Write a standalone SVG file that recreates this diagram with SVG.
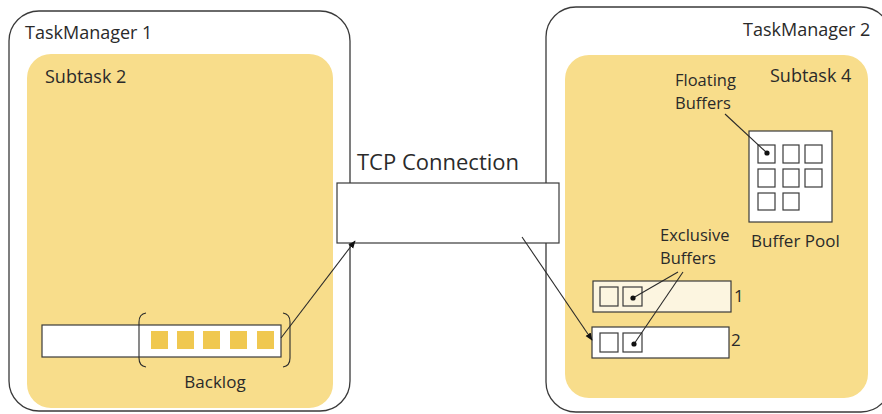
<svg xmlns="http://www.w3.org/2000/svg" width="882" height="414" viewBox="0 0 882 414">
  <defs>
    <style>
      .tm { fill: #ffffff; stroke: #3a3a3a; stroke-width: 1.3; }
      .sub { fill: #f8dd8b; stroke: none; }
      .box { fill: #ffffff; stroke: #3a3a3a; stroke-width: 1.2; }
      .cell { fill: none; stroke: #3a3a3a; stroke-width: 1.2; }
      .item { fill: #f0c850; stroke: none; }
      .lbl { font-family: "Open Sans", Lato, "Liberation Sans", sans-serif; fill: #2a2a2a; }
      .line { fill: none; stroke: #2a2a2a; stroke-width: 1.1; }
      .dot { fill: #111111; }
    </style>
    <marker id="arrow" viewBox="0 0 10 10" refX="9" refY="5" markerWidth="7" markerHeight="7" orient="auto-start-reverse">
      <path d="M0,1 L10,5 L0,9 z" fill="#111111"/>
    </marker>
  </defs>

  <!-- TaskManager 1 with Subtask 2 -->
  <g id="taskmanager1">
    <rect class="tm" x="9" y="11" width="341" height="400" rx="30"/>
    <text class="lbl" x="25" y="39" font-size="18">TaskManager 1</text>
  </g>
  <g id="subtask2">
    <rect class="sub" x="27" y="54" width="306" height="354" rx="24"/>
    <text class="lbl" x="45" y="83" font-size="18">Subtask 2</text>
  </g>
  <g id="backlog-queue">
    <rect class="box" x="42" y="325" width="239" height="32"/>
    <rect class="item" x="151" y="331" width="17" height="18"/>
    <rect class="item" x="177" y="331" width="17" height="18"/>
    <rect class="item" x="203" y="331" width="17" height="18"/>
    <rect class="item" x="230" y="331" width="17" height="18"/>
    <rect class="item" x="257" y="331" width="17" height="18"/>
    <path class="line" d="M146,313 Q139,314 139,322 L139,358 Q139,366 146,367"/>
    <path class="line" d="M283,313 Q290,314 290,322 L290,358 Q290,366 283,367"/>
    <text class="lbl" x="215" y="388" font-size="17" text-anchor="middle">Backlog</text>
  </g>

  <!-- TaskManager 2 with Subtask 4 -->
  <g id="taskmanager2">
    <rect class="tm" x="546" y="7" width="345" height="405" rx="30"/>
    <text class="lbl" x="743" y="36" font-size="18">TaskManager 2</text>
  </g>
  <g id="subtask4">
    <rect class="sub" x="565" y="55" width="303" height="343" rx="24"/>
    <text class="lbl" x="770" y="82" font-size="18">Subtask 4</text>
  </g>
  <g id="buffer-pool">
    <rect class="box" x="749" y="131" width="83" height="91"/>
    <rect class="cell" x="758" y="145" width="17" height="18"/>
    <rect class="cell" x="783" y="145" width="16" height="18"/>
    <rect class="cell" x="805" y="145" width="17" height="18"/>
    <rect class="cell" x="758" y="169" width="17" height="18"/>
    <rect class="cell" x="783" y="169" width="16" height="18"/>
    <rect class="cell" x="805" y="169" width="17" height="18"/>
    <rect class="cell" x="758" y="193" width="17" height="17"/>
    <rect class="cell" x="783" y="193" width="16" height="17"/>
    <text class="lbl" x="751" y="247" font-size="17">Buffer Pool</text>
  </g>
  <g id="floating-buffers-label">
    <text class="lbl" font-size="16.5"><tspan x="675" y="86">Floating</tspan><tspan x="675" y="108.5">Buffers</tspan></text>
    <line class="line" x1="725" y1="114" x2="767" y2="153"/>
    <circle class="dot" cx="767" cy="153" r="2.6"/>
  </g>
  <g id="input-channel-1">
    <rect class="box" x="593" y="281" width="138" height="31" style="fill:#fcf5e0"/>
    <rect class="cell" x="600" y="287" width="18" height="19"/>
    <rect class="cell" x="623" y="287" width="19" height="19"/>
    <text class="lbl" x="734" y="302" font-size="17">1</text>
  </g>
  <g id="input-channel-2">
    <rect class="box" x="592" y="327" width="137" height="31"/>
    <rect class="cell" x="600" y="333" width="18" height="19"/>
    <rect class="cell" x="623" y="333" width="19" height="19"/>
    <text class="lbl" x="731" y="346" font-size="17">2</text>
  </g>
  <g id="exclusive-buffers-label">
    <text class="lbl" font-size="16.5"><tspan x="660" y="241">Exclusive</tspan><tspan x="660" y="263.5">Buffers</tspan></text>
    <line class="line" x1="678" y1="272" x2="633" y2="298"/>
    <line class="line" x1="683" y1="272" x2="634" y2="344"/>
    <circle class="dot" cx="633" cy="298" r="2.6"/>
    <circle class="dot" cx="634" cy="344" r="2.6"/>
  </g>

  <!-- TCP connection between the two TaskManagers -->
  <g id="tcp-connection">
    <rect class="box" x="337" y="183" width="222" height="60"/>
    <text class="lbl" x="357" y="170" font-size="22">TCP Connection</text>
  </g>

  <g id="connectors">
    <line class="line" x1="281" y1="338" x2="355" y2="241" marker-end="url(#arrow)"/>
    <line class="line" x1="522" y1="237" x2="592" y2="340" marker-end="url(#arrow)"/>
  </g>
</svg>
